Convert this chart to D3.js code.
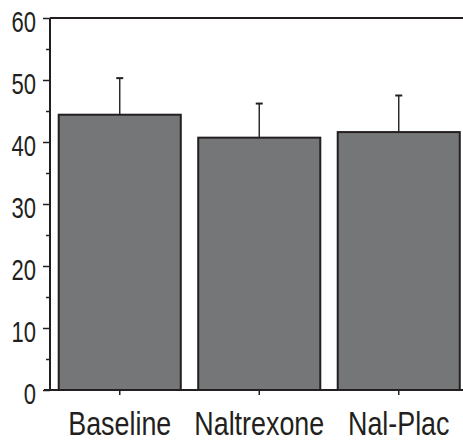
<!DOCTYPE html>
<html>
<head>
<meta charset="utf-8">
<script src="https://cdn.jsdelivr.net/npm/d3@7"></script>
<style>
  html, body { margin: 0; padding: 0; background: #fff; }
  svg { display: block; }
  text { font-family: "Liberation Sans", Arial, sans-serif; fill: #231f20; }
</style>
</head>
<body>
<svg id="chart" width="463" height="443"></svg>
<script>
// Group means with their upper error (mean + SEM)
const categories = ["Baseline", "Naltrexone", "Nal-Plac"];
const means = [44.4, 40.7, 41.6];
const errorTops = [50.3, 46.2, 47.5];
const yTicks = [0, 10, 20, 30, 40, 50, 60];
const yMinorTicks = [5, 15, 25, 35, 45, 55];

const W = 463, H = 443;
const plotLeft = 50, plotTop = 18, plotBottom = 390, plotRight = 468.5;
const ink = "#231f20";
// Horizontal condensing applied to labels (narrow typeface look)
const yLabelSquash = 0.76, xLabelSquash = 0.79;

const svg = d3.select("#chart");

const x = d3.scaleBand().domain(categories).range([plotLeft, plotRight]).paddingInner(0.125).paddingOuter(0.0625);
const y = d3.scaleLinear().domain([0, 60]).range([plotBottom, plotTop]);

// Bars
svg.append("g").selectAll("rect")
  .data(categories)
  .join("rect")
  .attr("x", d => x(d))
  .attr("y", (d, i) => y(means[i]))
  .attr("width", x.bandwidth())
  .attr("height", (d, i) => y(0) - y(means[i]))
  .attr("fill", "#757677")
  .attr("stroke", ink)
  .attr("stroke-width", 2);

// Error bars (upper only)
const eb = svg.append("g").attr("stroke", ink);
eb.selectAll("line.stem")
  .data(categories)
  .join("line")
  .attr("class", "stem")
  .attr("x1", d => x(d) + x.bandwidth() / 2)
  .attr("x2", d => x(d) + x.bandwidth() / 2)
  .attr("y1", (d, i) => y(means[i]))
  .attr("y2", (d, i) => y(errorTops[i]))
  .attr("stroke-width", 1.4);
eb.selectAll("line.cap")
  .data(categories)
  .join("line")
  .attr("class", "cap")
  .attr("x1", d => x(d) + x.bandwidth() / 2 - 3.5)
  .attr("x2", d => x(d) + x.bandwidth() / 2 + 3.5)
  .attr("y1", (d, i) => y(errorTops[i]))
  .attr("y2", (d, i) => y(errorTops[i]))
  .attr("stroke-width", 2);

// Y axis with major and minor ticks
const yAxis = svg.append("g").attr("transform", `translate(${plotLeft},0)`)
  .call(d3.axisLeft(y).tickValues(yTicks).tickSize(7).tickPadding(7).tickFormat(d3.format("d")));
yAxis.select(".domain").remove();
yAxis.selectAll(".tick line").attr("stroke", ink).attr("stroke-width", 1.5);
yAxis.selectAll(".tick text")
  .style("font-size", "29px")
  .attr("x", -14 / yLabelSquash)
  .attr("dy", "0.48em")
  .attr("transform", `scale(${yLabelSquash},1)`)
  .attr("fill", ink);
svg.append("g").attr("transform", `translate(${plotLeft},0)`)
  .call(d3.axisLeft(y).tickValues(yMinorTicks).tickSize(4).tickFormat(""))
  .call(g => g.select(".domain").remove())
  .selectAll(".tick line").attr("stroke", ink).attr("stroke-width", 1.5);

// Frame: left spine, top and bottom lines running to the right edge
svg.append("line").attr("x1", plotLeft).attr("x2", plotLeft).attr("y1", y(60)).attr("y2", y(0))
  .attr("stroke", ink).attr("stroke-width", 2);
svg.append("line").attr("x1", plotLeft).attr("x2", W).attr("y1", y(60)).attr("y2", y(60))
  .attr("stroke", ink).attr("stroke-width", 2);
svg.append("line").attr("x1", 44).attr("x2", W).attr("y1", y(0)).attr("y2", y(0))
  .attr("stroke", ink).attr("stroke-width", 2);

// X axis category ticks and labels
const xAxis = svg.append("g").attr("transform", `translate(0,${plotBottom})`)
  .call(d3.axisBottom(x).tickSize(5).tickPadding(14));
xAxis.select(".domain").remove();
xAxis.selectAll(".tick line").attr("stroke", ink).attr("stroke-width", 1.5);
xAxis.selectAll(".tick text")
  .style("font-size", "34px")
  .attr("y", 45)
  .attr("dy", 0)
  .attr("transform", `scale(${xLabelSquash},1)`)
  .attr("fill", ink);
</script>
</body>
</html>
